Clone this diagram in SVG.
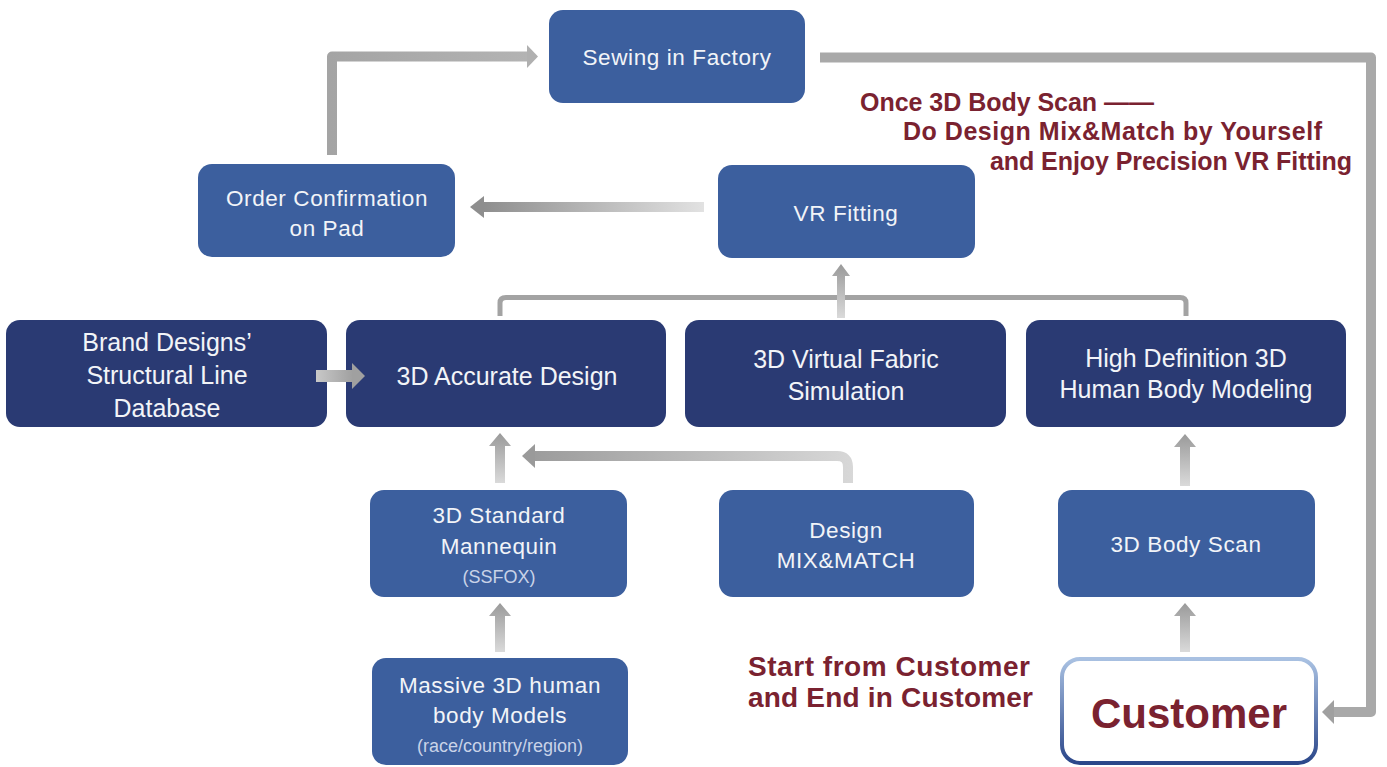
<svg xmlns="http://www.w3.org/2000/svg" width="1387" height="767" viewBox="0 0 1387 767">
<defs>
<style>
.mid{fill:#3c5f9e}
.navy{fill:#2a3a73}
.t{font-family:"Liberation Sans",Arial,sans-serif;fill:#f2f4f8;text-anchor:middle}
.tm{font-size:22.5px;letter-spacing:0.6px}
.tn{font-size:25px}
.sub{font-size:18px;fill:#c9d3e8}
.red{font-family:"Liberation Sans",Arial,sans-serif;font-weight:bold;fill:#7a2230}
.ln{fill:none;stroke-linejoin:round}
</style>
<linearGradient id="gUp" x1="0" y1="0" x2="0" y2="1">
<stop offset="0" stop-color="#9a9a9a"/><stop offset="1" stop-color="#dadada"/>
</linearGradient>
<linearGradient id="gLeft" x1="0" y1="0" x2="1" y2="0">
<stop offset="0" stop-color="#8e8e8e"/><stop offset="1" stop-color="#e2e2e2"/>
</linearGradient>
<linearGradient id="gRight" x1="0" y1="0" x2="1" y2="0">
<stop offset="0" stop-color="#c8c8c8"/><stop offset="1" stop-color="#a0a0a0"/>
</linearGradient>
<linearGradient id="gMix" gradientUnits="userSpaceOnUse" x1="522" y1="0" x2="855" y2="0">
<stop offset="0" stop-color="#9a9a9a"/><stop offset="1" stop-color="#d8d8d8"/>
</linearGradient>
<linearGradient id="gTop" gradientUnits="userSpaceOnUse" x1="330" y1="0" x2="540" y2="0">
<stop offset="0" stop-color="#a4a4a4"/><stop offset="1" stop-color="#b4b4b4"/>
</linearGradient>
<linearGradient id="gCust" x1="0" y1="0" x2="0" y2="1">
<stop offset="0" stop-color="#a9c1e2"/><stop offset="1" stop-color="#2b478a"/>
</linearGradient>
</defs>
<rect width="1387" height="767" fill="#ffffff"/>

<g id="sewing">
<rect class="mid" x="549" y="10" width="256" height="93" rx="14"/>
<text class="t tm" x="677" y="65">Sewing in Factory</text>
</g>
<g id="order">
<rect class="mid" x="198" y="164" width="257" height="93" rx="14"/>
<text class="t tm" x="327" y="206">Order Confirmation</text>
<text class="t tm" x="327" y="236">on Pad</text>
</g>
<g id="vr">
<rect class="mid" x="718" y="165" width="257" height="93" rx="14"/>
<text class="t tm" x="846" y="221">VR Fitting</text>
</g>
<g id="brand">
<rect class="navy" x="6" y="320" width="321" height="107" rx="14"/>
<text class="t tn" x="167" y="351">Brand Designs’</text>
<text class="t tn" x="167" y="384">Structural Line</text>
<text class="t tn" x="167" y="417">Database</text>
</g>
<g id="accurate">
<rect class="navy" x="346" y="320" width="320" height="107" rx="14"/>
<text class="t tn" x="507" y="385">3D Accurate Design</text>
</g>
<g id="fabric">
<rect class="navy" x="685" y="320" width="321" height="107" rx="14"/>
<text class="t tn" x="846" y="368">3D Virtual Fabric</text>
<text class="t tn" x="846" y="400">Simulation</text>
</g>
<g id="highdef">
<rect class="navy" x="1026" y="320" width="320" height="107" rx="14"/>
<text class="t tn" x="1186" y="367">High Definition 3D</text>
<text class="t tn" x="1186" y="398">Human Body Modeling</text>
</g>
<g id="mannequin">
<rect class="mid" x="370" y="490" width="257" height="107" rx="14"/>
<text class="t tm" x="499" y="523">3D Standard</text>
<text class="t tm" x="499" y="554">Mannequin</text>
<text class="t sub" x="499" y="583">(SSFOX)</text>
</g>
<g id="mix">
<rect class="mid" x="719" y="490" width="255" height="107" rx="14"/>
<text class="t tm" x="846" y="538">Design</text>
<text class="t tm" x="846" y="568">MIX&amp;MATCH</text>
</g>
<g id="bodyscan">
<rect class="mid" x="1058" y="490" width="257" height="107" rx="14"/>
<text class="t tm" x="1186" y="552">3D Body Scan</text>
</g>
<g id="massive">
<rect class="mid" x="372" y="658" width="256" height="107" rx="14"/>
<text class="t tm" x="500" y="693">Massive 3D human</text>
<text class="t tm" x="500" y="723">body Models</text>
<text class="t sub" x="500" y="752">(race/country/region)</text>
</g>
<g id="customer">
<rect x="1062" y="659" width="254" height="104" rx="18" fill="#ffffff" stroke="url(#gCust)" stroke-width="4"/>
<text class="red" x="1189" y="728" font-size="42" text-anchor="middle">Customer</text>
</g>

<g id="connectors">
<!-- Order Confirmation -> Sewing -->
<path class="ln" d="M332,155 V56.5 H528" stroke="url(#gTop)" stroke-width="10"/>
<polygon points="527,45 538,56.5 527,68" fill="#b0b0b0"/>
<!-- Sewing -> Customer -->
<path class="ln" d="M820,57.5 H1371 V712 H1333" stroke="#a9a9a9" stroke-width="10"/>
<polygon points="1334,700 1322,712 1334,724" fill="#a0a0a0"/>
<!-- VR -> Order -->
<rect x="483" y="202" width="221" height="10" fill="url(#gLeft)"/>
<polygon points="484,196 470,207 484,218" fill="#8e8e8e"/>
<!-- bracket -->
<path class="ln" d="M500,316 V303 Q500,297.5 506,297.5 H1180 Q1186,297.5 1186,303 V316" stroke="#a3a3a3" stroke-width="5"/>
<!-- bracket -> VR -->
<polygon points="837,318 837,276 832,276 841,264 850,276 845,276 845,318" fill="url(#gUp)"/>
<!-- Brand -> 3D Accurate -->
<rect x="316" y="370" width="37" height="12" fill="url(#gRight)"/>
<polygon points="352,363 365,376 352,389" fill="#a0a0a0"/>
<!-- Mannequin -> 3D Accurate -->
<polygon points="495,483 495,446 489,446 500,433 511,446 505,446 505,483" fill="url(#gUp)"/>
<!-- Mix&Match -> 3D Accurate -->
<path class="ln" d="M848,483 V467 Q848,456 837,456 H533" stroke="url(#gMix)" stroke-width="10"/>
<polygon points="535,444 522,456 535,468" fill="#9a9a9a"/>
<!-- Massive -> Mannequin -->
<polygon points="495,652 495,616 489,616 500,603 511,616 505,616 505,652" fill="url(#gUp)"/>
<!-- Body Scan -> High Def -->
<polygon points="1180,486 1180,447 1174,447 1185,434 1196,447 1190,447 1190,486" fill="url(#gUp)"/>
<!-- Customer -> Body Scan -->
<polygon points="1180,652 1180,616 1174,616 1185,603 1196,616 1190,616 1190,652" fill="url(#gUp)"/>
</g>

<g id="notes">
<text class="red" x="860" y="111" font-size="25" textLength="294">Once 3D Body Scan ——</text>
<text class="red" x="903" y="140" font-size="25" textLength="419">Do Design Mix&amp;Match by Yourself</text>
<text class="red" x="990" y="170" font-size="25" textLength="362">and Enjoy Precision VR Fitting</text>
<text class="red" x="748" y="676" font-size="28" textLength="282">Start from Customer</text>
<text class="red" x="748" y="707" font-size="28" textLength="285">and End in Customer</text>
</g>
</svg>
